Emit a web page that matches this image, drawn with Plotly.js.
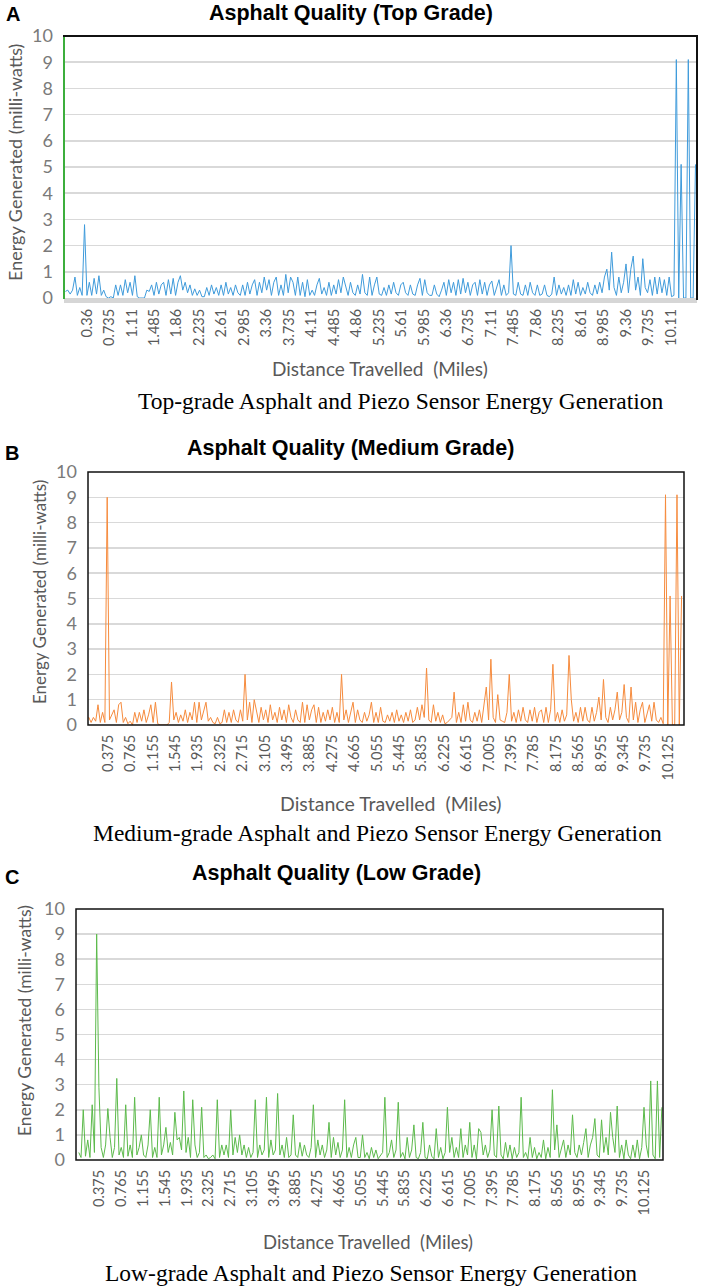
<!DOCTYPE html>
<html>
<head>
<meta charset="utf-8">
<script src="https://cdn.plot.ly/plotly-3.0.1.min.js"></script>
<style>html,body{margin:0;padding:0;background:#fff;}#chart{width:706px;height:1288px;}</style>
</head>
<body>
<div id="chart"></div>
<script>
// ---- Data (one value per 0.04 mile sample) ----
const sampleStepMiles = 0.04;

const topGradeEnergy = [
0.25,0.3,0.15,0.3,0.8,0.1,0.4,0.1,2.8,0.1,
0.6,0.1,0.75,0.15,0.85,0.1,0.3,0.05,0.0,0.05,
0.0,0.5,0.1,0.5,0.1,0.7,0.2,0.6,0.1,0.85,
0.05,0.0,0.0,0.0,0.3,0.25,0.5,0.1,0.6,0.15,
0.5,0.6,0.1,0.7,0.15,0.75,0.1,0.6,0.85,0.3,
0.6,0.2,0.5,0.1,0.35,0.1,0.3,0.05,0.05,0.4,
0.1,0.5,0.15,0.4,0.1,0.5,0.1,0.6,0.15,0.4,
0.1,0.5,0.2,0.1,0.5,0.1,0.6,0.15,0.5,0.7,
0.1,0.6,0.2,0.8,0.3,0.7,0.1,0.6,0.8,0.1,
0.5,0.1,0.9,0.2,0.8,0.6,0.1,0.8,0.1,0.6,
0.05,0.7,0.1,0.3,0.1,0.5,0.75,0.15,0.4,0.1,
0.6,0.1,0.5,0.15,0.7,0.2,0.8,0.4,0.1,0.6,
0.2,0.1,0.5,0.15,0.9,0.2,0.1,0.8,0.1,0.5,
0.8,0.15,0.1,0.4,0.1,0.5,0.15,0.6,0.2,0.1,
0.5,0.6,0.2,0.1,0.5,0.15,0.1,0.5,0.75,0.1,
0.7,0.2,0.1,0.1,0.5,0.15,0.05,0.3,0.6,0.1,
0.7,0.2,0.6,0.1,0.7,0.15,0.75,0.2,0.6,0.1,
0.5,0.6,0.1,0.7,0.15,0.6,0.1,0.5,0.65,0.1,
0.4,0.7,0.1,0.5,0.1,0.2,2.0,0.15,0.1,0.6,
0.15,0.1,0.5,0.1,0.6,0.2,0.1,0.5,0.1,0.15,
0.5,0.1,0.05,0.15,0.8,0.1,0.5,0.15,0.4,0.1,
0.5,0.1,0.7,0.15,0.6,0.1,0.4,0.15,0.6,0.2,
0.1,0.5,0.15,0.6,0.2,0.8,1.1,0.3,1.75,0.4,
0.1,0.8,0.2,0.6,1.3,0.2,1.1,1.6,0.3,0.8,
0.1,1.5,0.4,0.2,0.7,0.1,0.8,0.15,0.8,0.2,
0.7,0.1,0.8,0.05,0.1,9.1,0.0,5.1,0.0,0.0,
9.1,0.0,0.0,5.1
];

const mediumGradeEnergy = [
0.2,0.3,0.1,0.3,0.15,0.8,0.1,0.5,0.1,9.0,
0.2,0.4,0.6,0.1,0.8,0.9,0.1,0.3,0.05,0.15,
0.0,0.5,0.1,0.5,0.15,0.6,0.1,0.4,0.8,0.1,
0.9,0.05,0.0,0.0,0.0,0.0,0.1,1.7,0.2,0.5,
0.1,0.4,0.15,0.6,0.1,0.5,0.2,0.9,0.1,0.9,
0.2,0.6,0.9,0.15,0.3,0.1,0.05,0.3,0.05,0.1,
0.6,0.1,0.5,0.1,0.6,0.2,0.1,0.6,0.15,2.0,
0.2,0.9,0.1,1.0,0.5,0.1,0.7,0.2,0.6,0.1,
0.8,0.2,0.5,0.1,0.7,0.2,0.6,0.1,0.8,0.3,
0.1,0.6,0.2,0.1,0.9,0.1,0.8,0.2,0.6,0.8,
0.1,0.7,0.1,0.5,0.15,0.6,0.2,0.7,0.1,0.5,
0.1,2.0,0.2,0.6,0.1,0.5,0.9,0.1,0.6,0.2,
0.1,0.5,0.15,0.4,0.9,0.1,0.5,0.1,0.7,0.15,
0.1,0.4,0.15,0.5,0.1,0.6,0.15,0.4,0.1,0.5,
0.15,0.6,0.1,0.2,0.7,0.2,0.8,0.3,2.25,0.2,
0.1,0.8,0.15,0.5,0.1,0.4,0.05,0.1,0.2,0.3,
1.3,0.1,0.5,0.1,0.8,0.15,0.9,0.2,0.1,0.5,
0.15,0.6,0.1,0.9,1.5,0.2,2.6,0.3,0.1,1.2,
0.2,0.15,0.1,0.5,2.0,0.15,0.5,0.1,0.6,0.15,
0.7,0.2,0.1,0.6,0.15,0.7,0.1,0.5,0.6,0.1,
0.7,0.1,0.6,2.4,0.15,0.5,0.1,0.6,0.15,0.4,
2.75,1.0,0.15,0.5,0.1,0.7,0.15,0.7,0.2,0.1,
0.7,0.15,0.5,1.1,0.2,1.8,0.3,0.1,0.7,0.2,
0.6,1.3,0.2,0.5,1.6,0.3,0.1,1.5,0.2,0.9,
0.1,0.6,0.9,0.1,0.5,0.8,0.15,0.9,0.2,0.1,
0.3,0.05,9.1,0.0,5.1,0.0,0.0,9.1,0.0,5.1
];

const lowGradeEnergy = [
0.3,0.1,2.0,0.15,0.8,0.1,2.2,0.3,9.0,2.9,
0.5,0.1,0.6,2.05,0.9,0.1,0.5,3.25,0.2,0.5,
0.1,2.2,0.15,0.6,0.1,2.5,0.2,0.5,1.0,0.2,
0.1,0.6,2.0,0.1,0.5,0.1,2.5,0.2,0.6,1.3,
0.3,0.7,0.2,1.9,0.8,0.9,0.4,2.75,0.3,0.9,
0.1,2.4,0.6,0.1,0.3,2.1,0.1,0.2,0.05,0.1,
0.2,0.05,2.4,0.1,0.6,0.2,0.6,0.1,2.0,0.2,
0.9,0.3,1.0,0.2,0.6,0.1,0.5,0.1,0.3,2.4,
0.1,0.6,0.2,0.4,2.5,0.1,0.8,0.2,0.4,2.65,
0.2,0.6,0.1,0.9,0.1,0.2,1.8,0.2,0.1,0.7,
0.15,0.6,0.2,0.1,0.5,2.2,0.1,0.8,0.2,0.6,
0.1,0.4,1.5,0.1,0.9,0.2,0.7,0.1,0.4,2.4,
0.1,0.5,0.1,0.6,0.9,0.1,0.1,1.0,0.1,0.3,
0.05,0.5,0.1,0.4,0.05,0.2,0.3,2.5,0.1,0.3,
0.8,0.1,0.4,2.3,0.1,0.3,0.05,0.9,0.1,0.4,
1.4,0.1,0.05,0.3,1.5,0.1,0.05,0.6,0.15,0.05,
1.25,0.1,0.5,0.05,0.3,2.1,0.3,0.9,0.1,0.5,
0.1,1.25,0.1,0.6,0.2,1.5,0.1,0.6,0.05,1.25,
1.1,0.2,0.6,0.1,0.4,2.0,0.2,0.1,2.15,0.2,
0.05,0.7,0.1,0.6,0.05,0.5,0.1,0.3,2.5,0.1,
0.3,0.05,0.9,0.1,0.5,0.05,0.3,0.1,0.8,0.05,
0.5,0.1,2.8,0.4,1.4,0.1,0.5,0.8,0.1,0.6,
0.2,1.8,0.3,0.1,0.6,0.2,0.7,1.25,0.1,0.6,
0.9,1.65,0.2,0.1,1.6,0.3,0.9,0.2,1.9,0.9,
0.3,2.15,0.1,0.6,0.05,0.8,0.2,0.05,0.6,0.1,
0.8,0.05,0.5,2.1,0.6,0.1,3.15,0.2,0.05,3.15,
0.1,2.1
];

const tickLabelsTop = ["0.36","0.735","1.11","1.485","1.86","2.235","2.61","2.985","3.36","3.735","4.11","4.485","4.86","5.235","5.61","5.985","6.36","6.735","7.11","7.485","7.86","8.235","8.61","8.985","9.36","9.735","10.11"];
const tickLabelsMedLow = ["0.375","0.765","1.155","1.545","1.935","2.325","2.715","3.105","3.495","3.885","4.275","4.665","5.055","5.445","5.835","6.225","6.615","7.005","7.395","7.785","8.175","8.565","8.955","9.345","9.735","10.125"];

const panelTitles = ["Asphalt Quality (Top Grade)","Asphalt Quality (Medium Grade)","Asphalt Quality (Low Grade)"];
const panelLetters = ["A","B","C"];
const captions = ["Top-grade Asphalt and Piezo Sensor Energy Generation","Medium-grade Asphalt and Piezo Sensor Energy Generation","Low-grade Asphalt and Piezo Sensor Energy Generation"];
const yTitle = "Energy Generated (milli-watts)";
const xTitle = "Distance Travelled&nbsp; (Miles)";

// ---- Layout helpers ----
const W = 706, H = 1288;
const fx = px => px / W;
const fy = py => 1 - py / H;
const distances = arr => arr.map((_, i) => i * sampleStepMiles);

const FONT = "Lato, 'Open Sans', sans-serif";
const GRID = "#d9d9d9";

function xAxis(dom, anchor, range, labels, standoff) {
  return {
    domain: [fx(dom[0]), fx(dom[1])], anchor: anchor, range: range,
    tickmode: "array", tickvals: labels.map(Number), ticktext: labels,
    tickangle: -90, showgrid: false, zeroline: false, showline: false, ticks: "",
    ticklabelstandoff: standoff,
    tickfont: {family: FONT, size: 14.5, color: "#595959"}, fixedrange: true
  };
}
function yAxis(dom, anchor) {
  return {
    domain: [fy(dom[1]), fy(dom[0])], anchor: anchor, range: [0, 10],
    tickmode: "linear", tick0: 0, dtick: 1,
    showgrid: true, gridcolor: GRID, gridwidth: 1.5, zeroline: false, showline: false,
    ticks: "", ticklabelstandoff: 10,
    tickfont: {family: FONT, size: 18, color: "#7a7a7a"}, fixedrange: true
  };
}

const traces = [
  {x: distances(topGradeEnergy), y: topGradeEnergy, xaxis: "x", yaxis: "y", type: "scatter", mode: "lines",
   line: {color: "#3f9bdb", width: 1}, hoverinfo: "skip"},
  {x: distances(mediumGradeEnergy), y: mediumGradeEnergy, xaxis: "x2", yaxis: "y2", type: "scatter", mode: "lines",
   line: {color: "#f68b3d", width: 1}, hoverinfo: "skip"},
  {x: distances(lowGradeEnergy), y: lowGradeEnergy, xaxis: "x3", yaxis: "y3", type: "scatter", mode: "lines",
   line: {color: "#5cba4b", width: 1}, hoverinfo: "skip"}
];

function ann(text, px, py, size, opts) {
  return Object.assign({text: text, xref: "paper", yref: "paper", x: fx(px), y: fy(py),
    xanchor: "center", yanchor: "middle", showarrow: false,
    font: {family: FONT, size: size, color: "#595959"}}, opts || {});
}
const BOLD = {family: "'Liberation Sans', Arial, sans-serif", size: 21.5, color: "#000", weight: 700};
const LETTER = {family: "'Liberation Sans', Arial, sans-serif", size: 20, color: "#000", weight: 700};
const SERIF = {family: "'Liberation Serif', 'Times New Roman', serif", size: 23.5, color: "#000"};

const annotations = [
  ann("<b>" + panelLetters[0] + "</b>", 13, 14, 20, {font: LETTER}),
  ann("<b>" + panelTitles[0] + "</b>", 351, 13, 21, {font: BOLD}),
  ann(yTitle, 15, 163, 18, {textangle: -90}),
  ann(xTitle, 380, 368, 19),
  ann(captions[0], 400, 401, 23, {font: SERIF}),

  ann("<b>" + panelLetters[1] + "</b>", 12, 453, 20, {font: LETTER}),
  ann("<b>" + panelTitles[1] + "</b>", 350, 448, 21, {font: BOLD}),
  ann(yTitle, 39, 592, 17, {textangle: -90}),
  ann(xTitle, 390, 803, 19.5),
  ann(captions[1], 377, 833, 23, {font: SERIF}),

  ann("<b>" + panelLetters[2] + "</b>", 12, 877, 20, {font: LETTER}),
  ann("<b>" + panelTitles[2] + "</b>", 336, 873, 21, {font: BOLD}),
  ann(yTitle, 24, 1021, 17.5, {textangle: -90}),
  ann(xTitle, 368, 1242, 18.5),
  ann(captions[2], 371, 1273, 23, {font: SERIF})
];

const shapes = [
  // Panel A
  {type: "rect", xref: "paper", yref: "paper", x0: fx(64), x1: fx(697), y0: fy(303), y1: fy(298),
   fillcolor: "#d6d6d6", line: {width: 0}, layer: "above"},
  {type: "line", xref: "paper", yref: "paper", x0: fx(64), x1: fx(64), y0: fy(299), y1: fy(35),
   line: {color: "#3cae3c", width: 2}},
  {type: "line", xref: "paper", yref: "paper", x0: fx(63), x1: fx(698), y0: fy(36), y1: fy(36),
   line: {color: "#111", width: 2}},
  {type: "line", xref: "paper", yref: "paper", x0: fx(697), x1: fx(697), y0: fy(36), y1: fy(300),
   line: {color: "#111", width: 2}},
  // Panel B
  {type: "rect", xref: "paper", yref: "paper", x0: fx(88), x1: fx(684), y0: fy(725), y1: fy(472),
   line: {color: "#111", width: 1.5}, fillcolor: "rgba(0,0,0,0)"},
  // Panel C
  {type: "rect", xref: "paper", yref: "paper", x0: fx(76), x1: fx(663), y0: fy(1160), y1: fy(909),
   line: {color: "#111", width: 1.5}, fillcolor: "rgba(0,0,0,0)"}
];

const layout = {
  width: W, height: H, margin: {l: 0, r: 0, t: 0, b: 0},
  paper_bgcolor: "#fff", plot_bgcolor: "#fff", showlegend: false,
  font: {family: FONT},
  xaxis: xAxis([64, 697], "y", [-0.023, 10.545], tickLabelsTop, 7),
  yaxis: yAxis([36, 298], "x"),
  xaxis2: xAxis([88, 684], "y2", [0.026, 10.402], tickLabelsMedLow, 6),
  yaxis2: yAxis([472, 725], "x2"),
  xaxis3: xAxis([76, 663], "y3", [-0.05, 10.46], tickLabelsMedLow, 6),
  yaxis3: yAxis([909, 1160], "x3"),
  annotations: annotations,
  shapes: shapes
};

Plotly.newPlot("chart", traces, layout, {staticPlot: true, displayModeBar: false});
</script>
</body>
</html>
